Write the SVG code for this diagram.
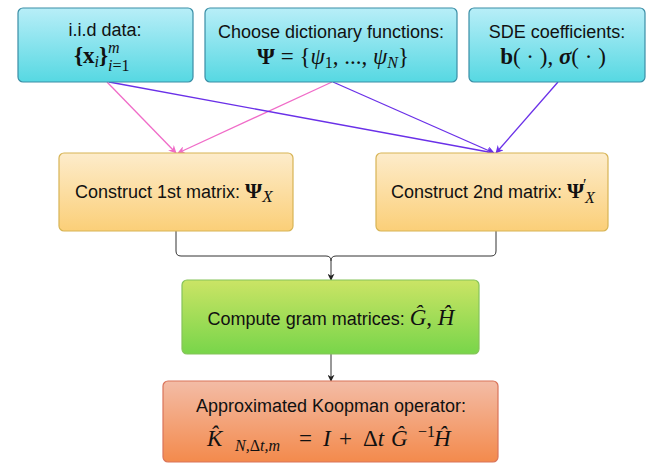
<svg xmlns="http://www.w3.org/2000/svg" width="647" height="464" viewBox="0 0 647 464">
<defs>
<linearGradient id="gBlue" x1="0" y1="0" x2="0" y2="1"><stop offset="0" stop-color="#b8eef8"/><stop offset="1" stop-color="#56d8e2"/></linearGradient>
<linearGradient id="gYel" x1="0" y1="0" x2="0" y2="1"><stop offset="0" stop-color="#fdeccb"/><stop offset="1" stop-color="#fbcf78"/></linearGradient>
<linearGradient id="gGrn" x1="0" y1="0" x2="0" y2="1"><stop offset="0" stop-color="#cbe465"/><stop offset="1" stop-color="#78d54a"/></linearGradient>
<linearGradient id="gRed" x1="0" y1="0" x2="0" y2="1"><stop offset="0" stop-color="#f3bca6"/><stop offset="1" stop-color="#f38a4c"/></linearGradient>
<marker id="aPink" viewBox="0 0 10 10" refX="9" refY="5" markerWidth="8" markerHeight="8" markerUnits="userSpaceOnUse" orient="auto"><path d="M0 0 L10 5 L0 10 L3 5 Z" fill="#f06cc8"/></marker>
<marker id="aPurp" viewBox="0 0 10 10" refX="9" refY="5" markerWidth="8" markerHeight="8" markerUnits="userSpaceOnUse" orient="auto"><path d="M0 0 L10 5 L0 10 L3 5 Z" fill="#6a30e8"/></marker>
<marker id="aBlk" viewBox="0 0 10 10" refX="9" refY="5" markerWidth="7" markerHeight="7" markerUnits="userSpaceOnUse" orient="auto"><path d="M0 0 L10 5 L0 10 L3 5 Z" fill="#222"/></marker>
</defs>
<style>
.box{stroke-width:1.2}
.blue{fill:url(#gBlue);stroke:#3a8ea6}
.yel{fill:url(#gYel);stroke:#d7b455}
.grn{fill:url(#gGrn);stroke:#86c45a}
.red{fill:url(#gRed);stroke:#d9745a}
.t{font-family:"Liberation Sans",Arial,sans-serif;font-size:18px;fill:#111;text-anchor:middle}
.ts{font-family:"Liberation Sans",Arial,sans-serif;font-size:18px;fill:#111}
.m{font-family:"Liberation Serif","Times New Roman",serif;font-size:23px;fill:#111;text-anchor:middle}
.ms{font-family:"Liberation Serif","Times New Roman",serif;font-size:23px;fill:#111}
.sm{font-family:"Liberation Serif","Times New Roman",serif;font-size:16px;fill:#111}
.pink{stroke:#f06cc8;stroke-width:1.3;fill:none}
.purp{stroke:#6a30e8;stroke-width:1.3;fill:none}
.blk{stroke:#333;stroke-width:1;fill:none}
</style>
<g id="connectors">
<line class="pink" x1="107" y1="82" x2="176" y2="153" marker-end="url(#aPink)"/>
<line class="pink" x1="332" y1="82" x2="178" y2="153" marker-end="url(#aPink)"/>
<line class="purp" x1="109" y1="82" x2="494" y2="153" marker-end="url(#aPurp)"/>
<line class="purp" x1="333" y1="82" x2="494" y2="153" marker-end="url(#aPurp)"/>
<line class="purp" x1="558" y1="82" x2="496" y2="153" marker-end="url(#aPurp)"/>
<path class="blk" d="M176 231 V251 Q176 256 181 256 H326 Q331 256 331 261"/>
<path class="blk" d="M496 231 V251 Q496 256 491 256 H336 Q331 256 331 261"/>
<line class="blk" x1="331" y1="261" x2="331" y2="280" marker-end="url(#aBlk)"/>
<line class="blk" x1="331" y1="354" x2="331" y2="381" marker-end="url(#aBlk)"/>
</g>
<g id="n1">
<rect class="box blue" x="18" y="8" width="175" height="74" rx="5"/>
<text class="t" x="105" y="36">i.i.d data:</text>
<text class="ms" x="74" y="63"><tspan font-weight="bold">{x</tspan><tspan font-style="italic" font-size="16" dy="4">i</tspan><tspan font-weight="bold" dy="-4">}</tspan></text>
<text class="sm" x="108" y="53" font-style="italic" font-size="13">m</text>
<text class="sm" x="108" y="71" font-size="14"><tspan font-style="italic">i</tspan>=1</text>
</g>
<g id="n2">
<rect class="box blue" x="205" y="8" width="252" height="74" rx="5"/>
<text class="t" x="331" y="38">Choose dictionary functions:</text>
<text class="m" x="333" y="64"><tspan font-weight="bold">Ψ</tspan> = {<tspan font-style="italic">ψ</tspan><tspan font-size="16" dy="4">1</tspan><tspan dy="-4">, ..., </tspan><tspan font-style="italic">ψ</tspan><tspan font-style="italic" font-size="16" dy="4">N</tspan><tspan dy="-4">}</tspan></text>
</g>
<g id="n3">
<rect class="box blue" x="469" y="8" width="176" height="74" rx="5"/>
<text class="t" x="557" y="38">SDE coefficients:</text>
<text class="m" x="553" y="64"><tspan font-weight="bold">b</tspan>( · ), <tspan font-weight="bold" font-style="italic">σ</tspan>( · )</text>
</g>
<g id="n4">
<rect class="box yel" x="59" y="153" width="234" height="78" rx="5"/>
<text class="ts" x="75" y="198">Construct 1st matrix: <tspan font-family="Liberation Serif,serif" font-weight="bold" font-size="22">Ψ</tspan><tspan font-family="Liberation Serif,serif" font-style="italic" font-size="17" dy="4">X</tspan></text>
</g>
<g id="n5">
<rect class="box yel" x="376" y="153" width="232" height="78" rx="5"/>
<text class="ts" x="391" y="198">Construct 2nd matrix: <tspan font-family="Liberation Serif,serif" font-weight="bold" font-size="22">Ψ</tspan></text>
<text class="sm" x="583" y="190">′</text>
<text class="sm" x="585" y="203" font-style="italic" font-size="17">X</text>
</g>
<g id="n6">
<rect class="box grn" x="182" y="280" width="297" height="74" rx="5"/>
<text class="t" x="331" y="325">Compute gram matrices: <tspan font-family="Liberation Serif,serif" font-style="italic" font-size="23">Ĝ</tspan><tspan font-family="Liberation Serif,serif" font-size="23">, </tspan><tspan font-family="Liberation Serif,serif" font-style="italic" font-size="23">Ĥ</tspan></text>
</g>
<g id="n7">
<rect class="box red" x="163" y="381" width="335" height="81" rx="5"/>
<text class="t" x="331" y="412">Approximated Koopman operator:</text>
<text class="ms" x="207" y="446" font-size="24"><tspan font-style="italic">K̂</tspan><tspan x="235" font-style="italic" font-size="16" dy="5">N,</tspan><tspan font-size="16">Δ</tspan><tspan font-style="italic" font-size="16">t,m</tspan><tspan x="299" dy="-5">=</tspan><tspan x="323" font-style="italic">I</tspan><tspan x="339">+</tspan><tspan x="363">Δ</tspan><tspan font-style="italic">t</tspan><tspan x="391" font-style="italic">Ĝ</tspan><tspan x="418" font-size="16" dy="-9">−1</tspan><tspan x="434" font-style="italic" dy="9">Ĥ</tspan></text>
</g>
</svg>
